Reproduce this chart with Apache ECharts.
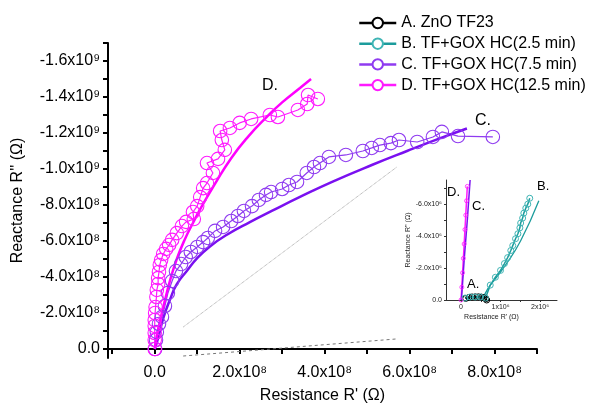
<!DOCTYPE html>
<html>
<head>
<meta charset="utf-8">
<script src="https://cdn.jsdelivr.net/npm/echarts@6/dist/echarts.min.js"></script>
<style>
  html, body { margin: 0; padding: 0; background: #fff; }
  #main { width: 589px; height: 403px; }
</style>
</head>
<body>
<div id="main"></div>
<script>
// data, main plot in units of 1e8 ohm
var dX = [0.0, 0.0, 0.0, 0.0, 0.0, 0.01, 0.02, 0.04, 0.05, 0.08, 0.08, 0.1, 0.12, 0.15, 0.2, 0.27, 0.34, 0.41, 0.52, 0.64, 0.74, 0.92, 0.9, 1.0, 1.07, 1.14, 1.23, 1.37, 1.23, 1.49, 1.65, 1.58, 1.54, 1.77, 2.0, 2.27, 2.71, 2.9, 3.37, 3.59, 3.61, 3.84];
var dY = [0, -0.5, -0.89, -1.28, -1.61, -2.0, -2.33, -2.89, -3.28, -3.61, -3.94, -4.28, -4.67, -4.94, -5.28, -5.56, -5.78, -6.06, -6.44, -6.83, -7.06, -7.22, -7.61, -7.94, -8.44, -8.94, -9.22, -9.78, -10.33, -10.56, -11.06, -11.61, -12.11, -12.28, -12.56, -12.78, -13.0, -12.89, -13.28, -13.61, -14.11, -13.89];

var cX = [0.01, 0.03, 0.05, 0.1, 0.17, 0.24, 0.31, 0.41, 0.5, 0.62, 0.73, 0.85, 1.0, 1.14, 1.25, 1.42, 1.61, 1.8, 1.96, 2.1, 2.29, 2.45, 2.62, 2.74, 3.0, 3.16, 3.35, 3.58, 3.75, 3.89, 4.1, 4.5, 4.9, 5.11, 5.3, 5.56, 5.75, 6.18, 6.55, 6.76, 7.14, 7.96];
var cY = [0, -0.5, -0.94, -1.39, -1.78, -2.39, -3.11, -3.78, -4.33, -4.72, -5.11, -5.39, -5.67, -5.94, -6.17, -6.56, -6.78, -7.11, -7.39, -7.67, -7.94, -8.28, -8.56, -8.72, -8.89, -9.11, -9.28, -9.78, -10.11, -10.33, -10.67, -10.78, -11.0, -11.17, -11.33, -11.44, -11.61, -11.5, -11.78, -12.06, -11.83, -11.78];

var cFitX = [0, 0.08, 0.2, 0.36, 0.52, 0.76, 1.0, 1.3, 1.7, 2.24, 2.78, 3.42, 4.19, 5.14, 5.94, 6.71, 7.35];
var cFitY = [0, -0.6, -1.7, -2.75, -3.6, -4.35, -5.05, -5.7, -6.35, -7.05, -7.7, -8.45, -9.3, -10.25, -11.0, -11.7, -12.25];

var dFitX = [0, 0.05, 0.12, 0.24, 0.36, 0.52, 0.71, 0.9, 1.1, 1.4, 1.8, 2.2, 2.64, 3.0, 3.42, 3.68];
var dFitY = [0, -0.7, -1.5, -2.7, -3.8, -5.0, -6.1, -7.0, -7.9, -9.1, -10.6, -11.8, -12.9, -13.7, -14.5, -15.0];

// zoom connector lines (main plot)
var guideSolid = [[0.67, -1.22], [5.7, -10.11]];
var guideDash = [[0.67, 0.39], [5.7, -0.56]];

// inset, in units of 1e6 ohm
var aInX = [0.12, 0.2, 0.28, 0.36, 0.44, 0.52, 0.58, 0.63, 0.65];
var aInY = [-0.1, -0.16, -0.19, -0.2, -0.2, -0.18, -0.14, -0.08, 0];
var bInX = [0.1, 0.23, 0.36, 0.49, 0.62, 0.74, 0.87, 1.0, 1.1, 1.18, 1.26, 1.31, 1.38, 1.44, 1.49, 1.51, 1.56, 1.59, 1.64, 1.69, 1.74];
var bInY = [-0.12, -0.19, -0.19, -0.19, -0.12, -0.93, -1.42, -1.85, -2.28, -2.65, -3.09, -3.4, -3.83, -4.14, -4.51, -4.81, -5.12, -5.43, -5.74, -5.99, -6.36];
var bFitX = [0.1, 0.3, 0.46, 0.74, 1.13, 1.51, 1.97];
var bFitY = [-0.1, -0.15, -0.15, -0.93, -2.2, -3.7, -6.2];
var cInX = [0.01, 0.08, 0.16, 0.23];
var cInY = [0, -2.5, -5.0, -7.5];
var dInX = [0, 0.02, 0.04, 0.06, 0.08, 0.1, 0.12, 0.14, 0.16];
var dInY = [0, -0.8, -1.7, -2.6, -3.5, -4.4, -5.3, -6.2, -7.1];

// ticks and labels
var xTicks = [-1e8, 0, 1e8, 2e8, 3e8, 4e8, 5e8, 6e8, 7e8, 8e8, 9e8];
var xLabels = [0, 2e8, 4e8, 6e8, 8e8];
var yTicks = [-1.7e9, -1.6e9, -1.5e9, -1.4e9, -1.3e9, -1.2e9, -1.1e9, -1.0e9, -9e8, -8e8, -7e8, -6e8, -5e8, -4e8, -3e8, -2e8, -1e8, 0];
var yLabels = [-1.6e9, -1.4e9, -1.2e9, -1.0e9, -8e8, -6e8, -4e8, -2e8, 0];
var inXTicks = [0, 0.5, 1, 1.5, 2];
var inXLabels = [0, 1, 2];
var inYTicks = [-7, -6, -5, -4, -3, -2, -1, 0];
var inYLabels = [-6, -4, -2, 0];

var names = ['A. ZnO TF23', 'B. TF+GOX HC(2.5 min)', 'C. TF+GOX HC(7.5 min)', 'D. TF+GOX HC(12.5 min)'];
var colA = '#000000', colB = '#1c9c9c', colC = '#8f3bf0', colCfit = '#7a10f0', colD = '#ff1aff';

var sup = { '0': '⁰', '1': '¹', '2': '²', '3': '³', '4': '⁴', '5': '⁵', '6': '⁶', '7': '⁷', '8': '⁸', '9': '⁹' };
function sci(v) {
    if (v === 0) return '0.0';
    var e = Math.floor(Math.log10(Math.abs(v)) + 1e-9);
    var m = v / Math.pow(10, e);
    return m.toFixed(1) + 'x10' + sup[String(e)];
}
function pairs(xs, ys, k) {
    return xs.map(function (x, i) { return [x * k, ys[i] * k]; });
}

var font = 'Liberation Sans, Arial, sans-serif';
var myChart = echarts.init(document.getElementById('main'));

var option = {
    animation: false,
    backgroundColor: '#fff',
    textStyle: { fontFamily: font },
    grid: [
        { left: 108, right: 52, top: 43, bottom: 45, outerBoundsMode: 'none' },
        { left: 446, right: 32, top: 180, bottom: 103, outerBoundsMode: 'none' }
    ],
    legend: {
        data: names,
        orient: 'vertical',
        left: 353,
        top: 10,
        itemWidth: 37,
        itemHeight: 13,
        itemGap: 4.7,
        itemStyle: { color: '#fff' },
        lineStyle: { width: 2.5 },
        textStyle: { fontSize: 16, color: '#000', fontFamily: font }
    },
    xAxis: [{
        type: 'value',
        gridIndex: 0,
        min: -1.1e8,
        max: 9e8,
        name: "Resistance R' (Ω)",
        nameLocation: 'middle',
        nameGap: 30,
        nameTextStyle: { fontSize: 16, color: '#000' },
        axisLine: { onZero: true, lineStyle: { color: '#000', width: 2 } },
        axisTick: { customValues: xTicks, length: 5, lineStyle: { color: '#000', width: 2 } },
        axisLabel: { customValues: xLabels, formatter: sci, fontSize: 16, color: '#000', margin: 7 },
        splitLine: { show: false }
    }, {
        type: 'value',
        gridIndex: 1,
        min: -0.38,
        max: 2.43,
        name: "Resistance R' (Ω)",
        nameLocation: 'middle',
        nameGap: 14,
        nameTextStyle: { fontSize: 7, color: '#222', padding: [0, 20, 0, 0] },
        axisLine: { onZero: false, lineStyle: { color: '#333', width: 1 } },
        axisTick: { customValues: inXTicks, length: 2, lineStyle: { color: '#333' } },
        axisLabel: {
            customValues: inXLabels, fontSize: 7, color: '#222', margin: 4,
            formatter: function (v) { return v === 0 ? '0' : v + 'x10⁶'; }
        },
        splitLine: { show: false }
    }],
    yAxis: [{
        type: 'value',
        gridIndex: 0,
        inverse: true,
        min: -1.7e9,
        max: 0.5e8,
        name: "Reactance R'' (Ω)",
        nameLocation: 'middle',
        nameGap: 82,
        nameTextStyle: { fontSize: 16, color: '#000' },
        axisLine: { onZero: false, lineStyle: { color: '#000', width: 2 } },
        axisTick: { customValues: yTicks, length: 5, lineStyle: { color: '#000', width: 2 } },
        axisLabel: { customValues: yLabels, formatter: sci, fontSize: 16, color: '#000', margin: 8 },
        splitLine: { show: false }
    }, {
        type: 'value',
        gridIndex: 1,
        inverse: true,
        min: -7.5,
        max: 0,
        name: "Reactance R'' (Ω)",
        nameLocation: 'middle',
        nameGap: 34,
        nameTextStyle: { fontSize: 7, color: '#222' },
        axisLine: { onZero: false, lineStyle: { color: '#333', width: 1 } },
        axisTick: { customValues: inYTicks, length: 2, lineStyle: { color: '#333' } },
        axisLabel: {
            customValues: inYLabels, fontSize: 7, color: '#222', margin: 4,
            formatter: function (v) { return v === 0 ? '0.0' : v.toFixed(1) + 'x10⁶'; }
        },
        splitLine: { show: false }
    }],
    series: [
        {
            name: names[0], type: 'line', xAxisIndex: 1, yAxisIndex: 1,
            data: pairs(aInX, aInY, 1),
            symbol: 'circle', symbolSize: 6,
            itemStyle: { color: 'rgba(0,0,0,0)', borderColor: colA, borderWidth: 1 },
            lineStyle: { color: colA, width: 1.5 }
        },
        {
            name: names[1], type: 'line', xAxisIndex: 1, yAxisIndex: 1,
            data: pairs(bInX, bInY, 1),
            symbol: 'circle', symbolSize: 6,
            itemStyle: { color: 'rgba(0,0,0,0)', borderColor: '#3fb5b5', borderWidth: 1 },
            lineStyle: { color: colB, width: 1.5 }
        },
        {
            name: names[2], type: 'line',
            data: pairs(cX, cY, 1e8),
            symbol: 'circle', symbolSize: 13.5,
            itemStyle: { color: 'rgba(0,0,0,0)', borderColor: colC, borderWidth: 1.1 },
            lineStyle: { color: colC, width: 1.2 }
        },
        {
            name: names[3], type: 'line',
            data: pairs(dX, dY, 1e8),
            symbol: 'circle', symbolSize: 13.5,
            itemStyle: { color: 'rgba(0,0,0,0)', borderColor: colD, borderWidth: 1.1 },
            lineStyle: { color: colD, width: 1.2 }
        },
        {
            name: 'C fit', type: 'line', showSymbol: false, smooth: true,
            data: pairs(cFitX, cFitY, 1e8),
            lineStyle: { color: colCfit, width: 2.5 }, z: 3
        },
        {
            name: 'D fit', type: 'line', showSymbol: false, smooth: true,
            data: pairs(dFitX, dFitY, 1e8),
            lineStyle: { color: '#ff00ff', width: 2.5 }, z: 3
        },
        {
            name: 'guide1', type: 'line', showSymbol: false,
            data: guideSolid.map(function (p) { return [p[0] * 1e8, p[1] * 1e8]; }),
            lineStyle: { color: '#888', width: 0.8, type: 'dotted' }
        },
        {
            name: 'guide2', type: 'line', showSymbol: false,
            data: guideDash.map(function (p) { return [p[0] * 1e8, p[1] * 1e8]; }),
            lineStyle: { color: '#777', width: 1, type: [3, 3] }
        },
        {
            name: 'B fit', type: 'line', xAxisIndex: 1, yAxisIndex: 1, showSymbol: false, smooth: true,
            data: pairs(bFitX, bFitY, 1),
            lineStyle: { color: colB, width: 1.3 }
        },
        {
            name: names[3], type: 'line', xAxisIndex: 1, yAxisIndex: 1,
            data: pairs(dInX, dInY, 1),
            symbol: 'circle', symbolSize: 4,
            itemStyle: { color: 'rgba(0,0,0,0)', borderColor: colD, borderWidth: 0.8 },
            lineStyle: { color: colD, width: 1.5 }
        },
        {
            name: 'C inset', type: 'line', xAxisIndex: 1, yAxisIndex: 1, showSymbol: false,
            data: pairs(cInX, cInY, 1),
            lineStyle: { color: colCfit, width: 1.5 }
        }
    ],
    graphic: [
        { type: 'text', x: 262, y: 78, style: { text: 'D.', fontSize: 16, fill: '#000', fontFamily: font } },
        { type: 'text', x: 475, y: 113, style: { text: 'C.', fontSize: 16, fill: '#000', fontFamily: font } },
        { type: 'text', x: 447, y: 186, style: { text: 'D.', fontSize: 13, fill: '#000', fontFamily: font } },
        { type: 'text', x: 472, y: 200, style: { text: 'C.', fontSize: 13, fill: '#000', fontFamily: font } },
        { type: 'text', x: 537, y: 180, style: { text: 'B.', fontSize: 13, fill: '#000', fontFamily: font } },
        { type: 'text', x: 467, y: 278, style: { text: 'A.', fontSize: 13, fill: '#000', fontFamily: font } }
    ]
};

myChart.setOption(option);
</script>
</body>
</html>
